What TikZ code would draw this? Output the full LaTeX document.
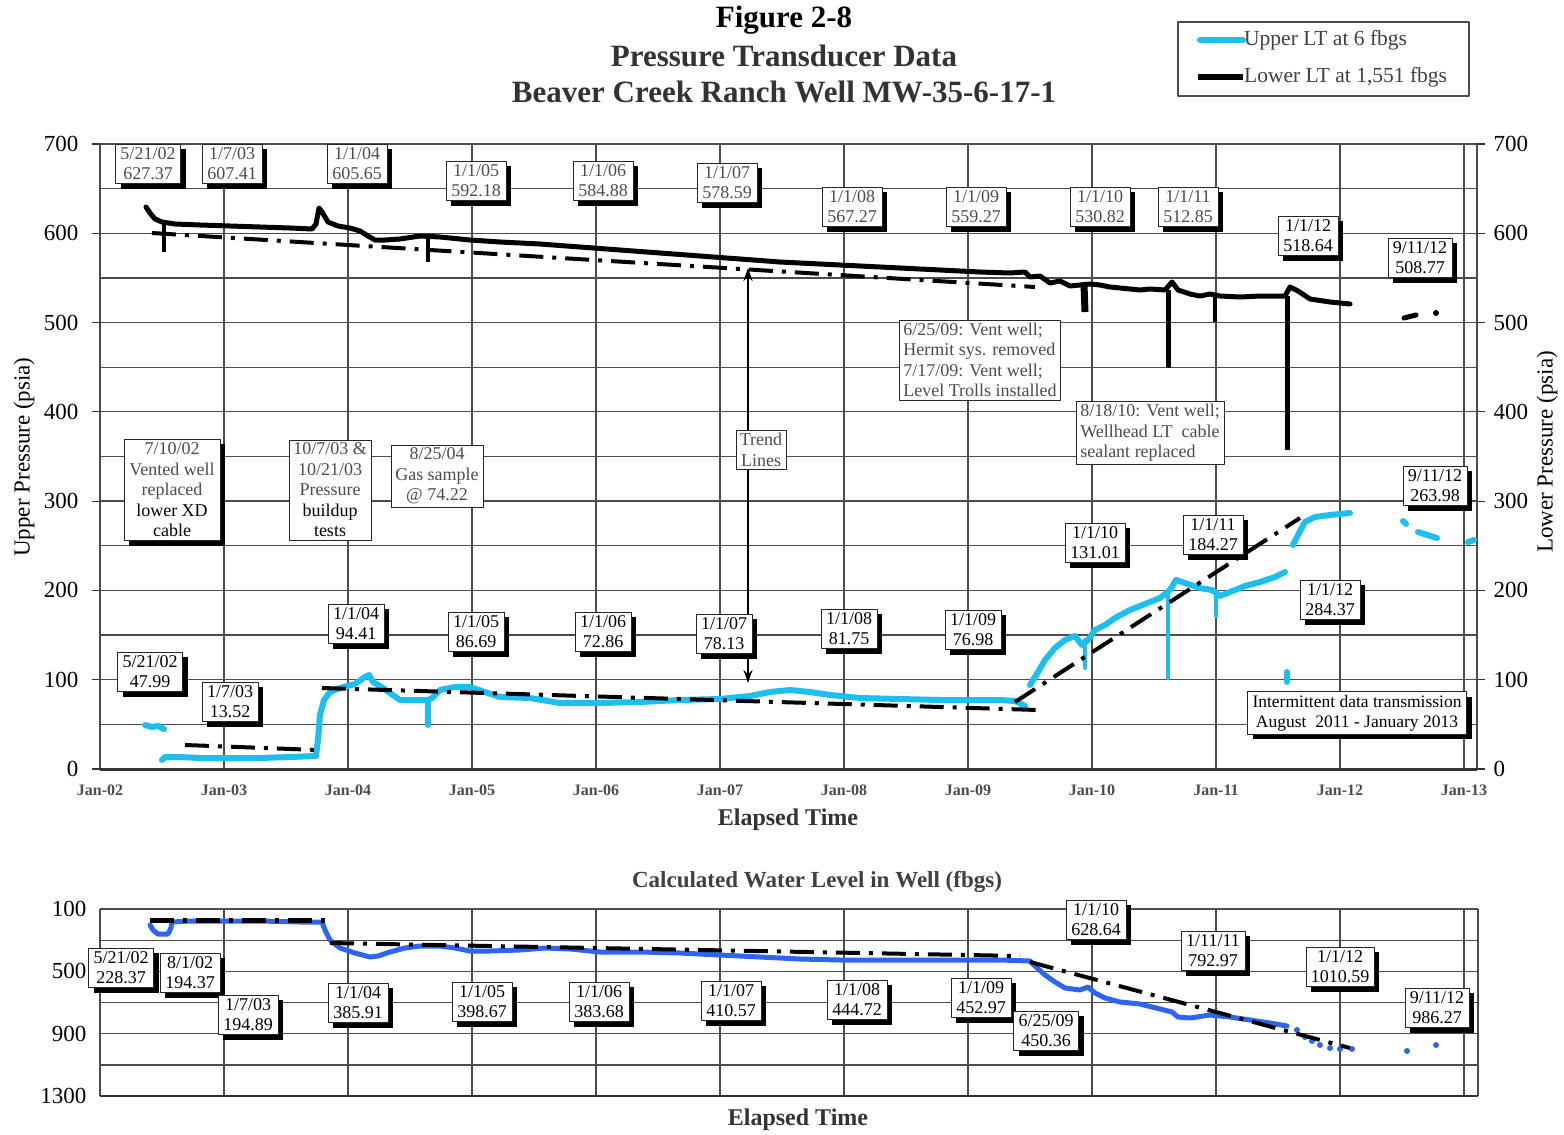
\documentclass[tikz,border=0pt]{standalone}
\usepackage{fontspec}
\setmainfont{Liberation Serif}
\usetikzlibrary{shadows,arrows.meta}
\definecolor{upperblue}{RGB}{30,190,240}
\definecolor{levelblue}{RGB}{45,100,240}
\tikzset{
  gridline/.style={draw=black!70, line width=1.3pt},
  axisline/.style={draw=black!80, line width=3pt},
  databox/.style={draw=black!85, fill=white, align=center, inner xsep=5pt, inner ysep=3.5pt,
    font=\fontsize{18}{20}\selectfont,
    drop shadow={shadow xshift=5pt, shadow yshift=-5pt, fill=black, opacity=1}},
  greybox/.style={databox, text=black!70},
  notebox/.style={draw=black!85, fill=white, inner xsep=4pt, inner ysep=3pt, text=black!70,
    font=\fontsize{18}{20.5}\selectfont},
  trendline/.style={line width=4pt, dash pattern=on 24pt off 9pt on 4pt off 9pt},
  axisnum/.style={font=\fontsize{23}{25}\selectfont},
  ticklabel/.style={font=\fontsize{16}{18}\selectfont\bfseries, text=black!70},
  axistitle/.style={font=\fontsize{24}{26}\selectfont\bfseries, text=black!80},
}
\begin{document}
\begin{tikzpicture}[x=1pt, y=-1pt, line join=round]
\useasboundingbox (0,0) rectangle (1564,1135);
\fill[white] (0,0) rectangle (1564,1135);

% titles and legend
\node[font=\fontsize{31}{33}\selectfont\bfseries] (fig) at (784,20) {Figure 2-8};
\node[font=\fontsize{31}{33}\selectfont\bfseries, text=black!80] (ttl) at (784,56) {Pressure Transducer Data};
\node[font=\fontsize{31}{33}\selectfont\bfseries, text=black!80] (well) at (784,92) {Beaver Creek Ranch Well MW-35-6-17-1};
\node[draw=black!70, line width=1.2pt, minimum width=291pt, minimum height=74pt] (legend) at (1323.5,59) {};
\node[anchor=west, inner xsep=1pt, font=\fontsize{21.5}{23}\selectfont, text=black!75] (legup) at (1243,40) {Upper LT at 6 fbgs};
\node[anchor=west, inner xsep=1pt, font=\fontsize{21.5}{23}\selectfont, text=black!75] (leglow) at (1243,77) {Lower LT at 1,551 fbgs};
\draw[upperblue, line width=6pt, line cap=round] (1200,40) -- (legup.west);
\draw[black, line width=6pt] (1198,77) -- (leglow.west);

% upper chart grid
\foreach \v in {0,50,...,700}
  \draw[gridline] (100,{769-\v*0.8929}) -- (1477,{769-\v*0.8929});
\foreach \i in {0,...,11}
  \draw[gridline] ({100+124*\i},144) -- ({100+124*\i},769);
\draw[gridline] (1477,144) -- (1477,769);
\draw[axisline] (100,769) -- (1477,769);
\foreach \v in {0,100,...,700} {
  \draw[black!80, line width=1.2pt] (92,{769-\v*0.8929}) -- (100,{769-\v*0.8929});
  \draw[black!80, line width=1.2pt] (1477,{769-\v*0.8929}) -- (1485,{769-\v*0.8929});
  \node[axisnum, anchor=east] (l\v) at (82,{769-\v*0.8929}) {\v};
  \node[axisnum, anchor=west] (r\v) at (1490,{769-\v*0.8929}) {\v};
}
\foreach \i/\yr in {0/02,1/03,2/04,3/05,4/06,5/07,6/08,7/09,8/10,9/11,10/12,11/13}
  \node[ticklabel] (jan\yr) at ({100+124*\i},790) {Jan-\yr};
\node[axistitle] (elap) at (788,820) {Elapsed Time};
\node[rotate=90, font=\fontsize{23}{25}\selectfont] (upax) at (24,457) {Upper Pressure (psia)};
\node[rotate=90, font=\fontsize{23}{25}\selectfont] (lowax) at (1547,452) {Lower Pressure (psia)};

% lower transducer
\draw[line width=5pt, line cap=round] (146,207) -- (150,213) -- (155,219) -- (162,222) -- (175,224) -- (200,225) -- (230,226) -- (260,227) -- (290,228) -- (312,229) -- (316,224) -- (319,208) -- (322,212) -- (328,222) -- (338,226) -- (350,228) -- (360,231) -- (368,236) -- (375,240) -- (385,240) -- (400,239) -- (420,236) -- (440,237) -- (470,240) -- (500,242) -- (540,244) -- (580,247) -- (620,250) -- (660,253) -- (700,256) -- (740,259) -- (780,262) -- (820,264) -- (860,266) -- (900,268) -- (940,270) -- (980,272) -- (1010,273) -- (1025,272) -- (1030,277) -- (1040,276) -- (1050,283) -- (1060,281) -- (1070,286) -- (1080,285) -- (1090,284) -- (1100,285) -- (1110,287) -- (1120,288) -- (1130,289) -- (1140,290) -- (1150,289) -- (1165,290) -- (1172,282) -- (1178,290) -- (1190,294) -- (1200,296) -- (1210,294) -- (1220,296) -- (1240,297) -- (1260,296) -- (1285,296) -- (1290,287) -- (1298,291) -- (1310,299) -- (1330,302) -- (1350,304);
\draw[line width=4pt] (164,222) -- (164,252);
\draw[line width=4pt] (428,238) -- (428,262);
\draw[line width=7pt] (1084,285) -- (1085,312);
\draw[line width=5pt] (1168,290) -- (1168,368);
\draw[line width=4pt] (1215,294) -- (1215,322);
\draw[line width=5pt] (1287,296) -- (1287,450);
\draw[line width=5pt, line cap=round] (1404,318) -- (1416,315);
\fill (1436,313) circle (3pt);
\draw[trendline] (152,233) -- (1035,287);

% upper transducer
\begin{scope}[upperblue, line width=6pt, line cap=round]
\draw (145,725) -- (152,727) -- (158,726) -- (164,729);
\draw (162,760) -- (165,757) -- (180,757) -- (200,758) -- (230,758) -- (260,758) -- (290,757) -- (316,756) -- (318,740) -- (320,715) -- (324,700) -- (330,692) -- (340,688) -- (355,684) -- (365,677) -- (369,675) -- (373,682) -- (380,686) -- (390,693) -- (400,700) -- (415,700) -- (428,700) -- (432,698) -- (440,690) -- (455,687) -- (470,687) -- (485,692) -- (500,697) -- (530,698) -- (560,703) -- (600,703) -- (640,702) -- (680,700) -- (720,699) -- (750,696) -- (770,692) -- (790,690) -- (810,692) -- (830,695) -- (860,698) -- (900,699) -- (940,700) -- (980,700) -- (1000,700) -- (1015,701) -- (1025,706);
\draw (428,700) -- (428,725);
\draw (1030,685) -- (1038,672) -- (1045,660) -- (1055,648) -- (1065,640) -- (1075,636) -- (1082,645) -- (1088,640) -- (1095,630) -- (1105,625) -- (1115,618) -- (1130,610) -- (1145,604) -- (1160,598) -- (1170,590) -- (1176,580) -- (1185,583) -- (1200,588) -- (1212,590) -- (1220,596) -- (1230,592) -- (1245,586) -- (1260,582) -- (1275,577) -- (1285,572);
\draw[line width=4pt] (1085,640) -- (1085,668);
\draw[line width=4pt] (1168,592) -- (1168,678);
\draw[line width=4pt] (1216,592) -- (1216,616);
\draw (1293,545) -- (1298,535) -- (1305,522) -- (1315,517) -- (1330,515) -- (1350,513);
\draw (1287,672) -- (1287,682);
\draw (1403,521) -- (1406,524);
\draw (1418,532) -- (1437,538);
\draw (1468,542) -- (1474,540);
\end{scope}
\draw[trendline] (185,745) -- (318,750);
\draw[trendline] (322,688) -- (1038,710);
\draw[trendline] (1015,702) -- (1300,518);

% lower transducer values
\node[greybox] (b0201) at (148,164) {5/21/02\\627.37};
\node[greybox] (b0301) at (232,164) {1/7/03\\607.41};
\node[greybox] (b0401) at (357,164) {1/1/04\\605.65};
\node[greybox] (b0501) at (476,181) {1/1/05\\592.18};
\node[greybox] (b0601) at (603,181) {1/1/06\\584.88};
\node[greybox] (b0701) at (727,183) {1/1/07\\578.59};
\node[greybox] (b0801) at (852,207) {1/1/08\\567.27};
\node[greybox] (b0901) at (976,207) {1/1/09\\559.27};
\node[greybox] (b1001) at (1100,207) {1/1/10\\530.82};
\node[greybox] (b1101) at (1188,207) {1/1/11\\512.85};
\node[databox] (b1201) at (1308,236) {1/1/12\\518.64};
\node[databox] (b1209) at (1420,258) {9/11/12\\508.77};

% notes
\node[databox, font=\fontsize{18}{20.5}\selectfont] (vent02) at (172,490) {\textcolor{black!70}{7/10/02}\\\textcolor{black!70}{Vented well}\\\textcolor{black!70}{replaced}\\lower XD\\cable};
\node[draw=black!85, fill=white, align=center, inner xsep=4pt, inner ysep=3pt, font=\fontsize{18}{20.5}\selectfont] (build03) at (330,490) {\textcolor{black!70}{10/7/03 \&}\\\textcolor{black!70}{10/21/03}\\\textcolor{black!70}{Pressure}\\buildup\\tests};
\node[notebox, align=center] (gas04) at (437,476) {8/25/04\\Gas sample\\@ 74.22};
\node[notebox, align=left] (vent09) at (980,360) {6/25/09: Vent well;\\Hermit sys. removed\\7/17/09: Vent well;\\Level Trolls installed};
\node[notebox, align=left] (vent10) at (1150,433) {8/18/10: Vent well;\\Wellhead LT\ \ cable\\sealant replaced};
\node[notebox, align=center] (trend) at (761,450) {Trend\\Lines};
\coordinate (trendtop) at (748,268);
\coordinate (trendlow) at (748,683);
\draw[line width=1.5pt, -{Stealth[length=13pt, width=9pt]}] (trend.north -| trendtop) -- (trendtop);
\draw[line width=1.5pt, -{Stealth[length=13pt, width=9pt]}] (trend.south -| trendlow) -- (trendlow);
\node[databox] (u1209) at (1435,486) {9/11/12\\263.98};

% upper transducer values
\node[databox] (u0201) at (150,672) {5/21/02\\47.99};
\node[databox] (u0301) at (230,702) {1/7/03\\13.52};
\node[databox] (u0401) at (356,624) {1/1/04\\94.41};
\node[databox] (u0501) at (476,632) {1/1/05\\86.69};
\node[databox] (u0601) at (603,632) {1/1/06\\72.86};
\node[databox] (u0701) at (724,634) {1/1/07\\78.13};
\node[databox] (u0801) at (849,629) {1/1/08\\81.75};
\node[databox] (u0901) at (973,630) {1/1/09\\76.98};
\node[databox] (u1001) at (1095,543) {1/1/10\\131.01};
\node[databox] (u1101) at (1213,535) {1/1/11\\184.27};
\node[databox] (u1201) at (1330,600) {1/1/12\\284.37};
\node[databox, font=\fontsize{17.5}{20}\selectfont] (gap) at (1357,713) {Intermittent data transmission\\August\ \ 2011 - January 2013};

% water level chart
\node[font=\fontsize{23}{25}\selectfont\bfseries, text=black!75] (wltitle) at (817,882) {Calculated Water Level in Well (fbgs)};
\foreach \k in {0,...,6}
  \draw[gridline] (100,{909+31.17*\k}) -- (1478,{909+31.17*\k});
\foreach \i in {0,...,11}
  \draw[gridline] ({100+124*\i},909) -- ({100+124*\i},1096);
\draw[gridline] (1478,909) -- (1478,1096);
\draw[black!80, line width=2.5pt] (100,1096) -- (1478,1096);
\foreach \v/\k in {100/0,500/2,900/4,1300/6}
  \node[axisnum, anchor=east] (w\v) at (90,{909+31.17*\k}) {\v};
\node[axistitle] (elap2) at (798,1120) {Elapsed Time};

\draw[levelblue, line width=5pt, line cap=round] (150,925) -- (153,930) -- (158,934) -- (168,934) -- (171,928) -- (172,922) -- (190,921) -- (220,921) -- (260,921) -- (300,922) -- (322,922) -- (325,930) -- (330,940) -- (340,948) -- (355,953) -- (370,957) -- (378,956) -- (390,952) -- (405,948) -- (420,946) -- (440,946) -- (455,948) -- (470,951) -- (490,951) -- (520,950) -- (545,948) -- (570,949) -- (600,952) -- (640,952) -- (680,953) -- (720,955) -- (760,957) -- (800,959) -- (840,960) -- (880,960) -- (920,960) -- (960,960) -- (1000,960) -- (1030,961) -- (1035,966) -- (1045,975) -- (1055,982) -- (1065,988) -- (1080,990) -- (1088,987) -- (1095,993) -- (1105,998) -- (1120,1002) -- (1140,1004) -- (1160,1009) -- (1172,1012) -- (1178,1017) -- (1190,1018) -- (1210,1015) -- (1230,1017) -- (1250,1020) -- (1270,1023) -- (1287,1026);
\foreach \p in {(1297,1030),(1305,1037),(1312,1041),(1320,1045),(1330,1048),(1340,1049),(1352,1049),(1407,1051),(1436,1045)}
  \fill[levelblue] \p circle (3pt);
\draw[trendline, line width=5pt] (150,920) -- (330,920);
\draw[trendline] (330,943) -- (1020,956);
\draw[trendline] (1030,962) -- (1350,1048);

\node[databox] (w0201) at (121,968) {5/21/02\\228.37};
\node[databox] (w0208) at (190,973) {8/1/02\\194.37};
\node[databox] (w0301) at (248,1015) {1/7/03\\194.89};
\node[databox] (w0401) at (358,1003) {1/1/04\\385.91};
\node[databox] (w0501) at (482,1002) {1/1/05\\398.67};
\node[databox] (w0601) at (599,1002) {1/1/06\\383.68};
\node[databox] (w0701) at (731,1001) {1/1/07\\410.57};
\node[databox] (w0801) at (857,1000) {1/1/08\\444.72};
\node[databox] (w0901) at (981,998) {1/1/09\\452.97};
\node[databox] (w0906) at (1046,1031) {6/25/09\\450.36};
\node[databox] (w1001) at (1096,920) {1/1/10\\628.64};
\node[databox] (w1111) at (1213,951) {1/11/11\\792.97};
\node[databox] (w1201) at (1340,967) {1/1/12\\1010.59};
\node[databox] (w1209) at (1437,1008) {9/11/12\\986.27};
\end{tikzpicture}
\end{document}
